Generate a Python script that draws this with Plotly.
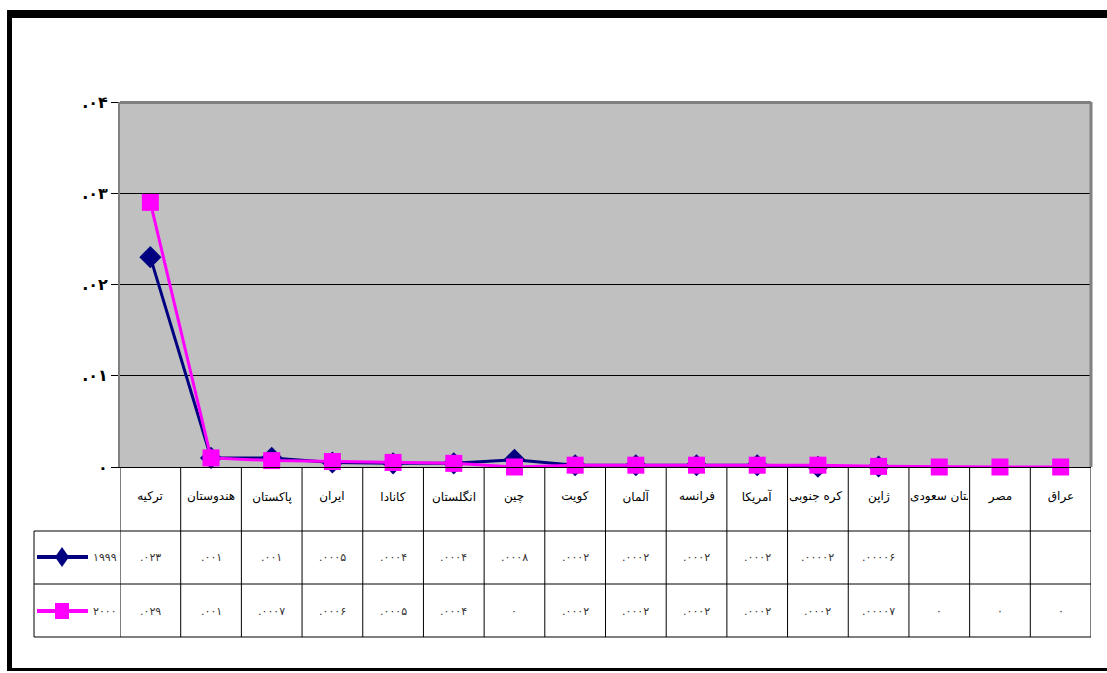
import plotly.graph_objects as go

# ---------------- data ----------------
categories = ["ترکیه", "هندوستان", "پاکستان", "ایران", "کانادا", "انگلستان", "چین", "کویت",
              "آلمان", "فرانسه", "آمریکا", "کره جنوبی", "ژاپن", "عربستان سعودی", "مصر", "عراق"]
values_1999 = [0.023, 0.001, 0.001, 0.0005, 0.0004, 0.0004, 0.0008, 0.0002,
               0.0002, 0.0002, 0.0002, 0.00002, 0.00006, None, None, None]
values_2000 = [0.029, 0.001, 0.0007, 0.0006, 0.0005, 0.0004, 0, 0.0002,
               0.0002, 0.0002, 0.0002, 0.0002, 0.00007, 0, 0, 0]
series_names = ["۱۹۹۹", "۲۰۰۰"]
y_tickvals = [0, 0.01, 0.02, 0.03, 0.04]
y_ticktext = ["۰", ".۰۱", ".۰۲", ".۰۳", ".۰۴"]

# ---------------- helpers ----------------
W, H = 1107, 673
L, R, T, B = 120, 1091, 102, 467
FA = "DejaVu Sans, Noto Sans, sans-serif"
PD = str.maketrans("0123456789", "۰۱۲۳۴۵۶۷۸۹")


def fmt(v):
    if v is None:
        return ""
    if v == 0:
        return "۰"
    s = f"{v:.5f}".rstrip("0")
    if s.startswith("0"):
        s = s[1:]
    return s.translate(PD)


def px(x):
    return (x - L) / (R - L)


def py(y):
    return (B - y) / (B - T)


fig = go.Figure()
fig.add_trace(go.Scatter(x=categories, y=values_1999, mode="lines+markers", name=series_names[0],
                         line=dict(color="#000080", width=3),
                         marker=dict(symbol="diamond", size=17, color="#000080"),
                         cliponaxis=False, connectgaps=False))
fig.add_trace(go.Scatter(x=categories, y=values_2000, mode="lines+markers", name=series_names[1],
                         line=dict(color="#FF00FF", width=3),
                         marker=dict(symbol="square", size=17, color="#FF00FF"),
                         cliponaxis=False))

shapes = []
annotations = []
line_col = "black"


def rect_px(x0, y0, x1, y1, color):
    shapes.append(dict(type="rect", xref="paper", yref="paper",
                       x0=px(x0), x1=px(x1), y0=py(y1), y1=py(y0),
                       fillcolor=color, line=dict(width=0), layer="above"))


# outer frame
rect_px(7, 10, 1107, 18, "black")
rect_px(7, 10, 12, 671, "black")
rect_px(7, 668, 1107, 671, "black")

# plot area border (gray)
shapes.append(dict(type="line", xref="paper", yref="paper", x0=0, x1=1, y0=py(102.5), y1=py(102.5),
                   line=dict(color="#808080", width=3), layer="above"))
shapes.append(dict(type="line", xref="paper", yref="paper", x0=px(1091), x1=px(1091), y0=py(102), y1=0,
                   line=dict(color="#808080", width=3), layer="above"))

# table horizontal lines
for yy in [531, 584, 637]:
    shapes.append(dict(type="line", xref="paper", yref="paper", x0=px(34), x1=px(1091),
                       y0=py(yy), y1=py(yy), line=dict(color=line_col, width=1), layer="above"))
# left column vertical
shapes.append(dict(type="line", xref="paper", yref="paper", x0=px(34), x1=px(34),
                   y0=py(531), y1=py(637), line=dict(color=line_col, width=1), layer="above"))
# category column boundaries
n = len(categories)
for i in range(n + 1):
    shapes.append(dict(type="line", xref="x", yref="paper", x0=i - 0.5, x1=i - 0.5,
                       y0=0, y1=py(637), line=dict(color=line_col, width=1), layer="above"))

# category labels and values
for i, c in enumerate(categories):
    annotations.append(dict(x=i, xref="x", y=py(497), yref="paper", text=c, showarrow=False,
                            yanchor="middle",
                            font=dict(family=FA, size=12, color="black"), width=58,
                            align="left" if len(c) > 8 else "center"))
    annotations.append(dict(x=i, xref="x", y=py(557), yref="paper", text=fmt(values_1999[i]),
                            yanchor="middle",
                            showarrow=False, font=dict(family=FA, size=11, color="#333333")))
    annotations.append(dict(x=i, xref="x", y=py(611), yref="paper", text=fmt(values_2000[i]),
                            yanchor="middle",
                            showarrow=False, font=dict(family=FA, size=11, color="#333333")))

# legend keys in the table
for (yy, col, sym, name) in [(557, "#000080", "diamond", series_names[0]),
                             (611, "#FF00FF", "square", series_names[1])]:
    shapes.append(dict(type="line", xref="paper", yref="paper", x0=px(37), x1=px(88),
                       y0=py(yy), y1=py(yy), line=dict(color=col, width=4), layer="above"))
    if sym == "diamond":
        path = (f"M {px(62)} {py(yy-10)} L {px(69)} {py(yy)} L {px(62)} {py(yy+10)} "
                f"L {px(55)} {py(yy)} Z")
    else:
        path = (f"M {px(55)} {py(yy-8)} L {px(69)} {py(yy-8)} L {px(69)} {py(yy+8)} "
                f"L {px(55)} {py(yy+8)} Z")
    shapes.append(dict(type="path", xref="paper", yref="paper", path=path,
                       fillcolor=col, line=dict(color=col, width=0), layer="above"))
    annotations.append(dict(x=px(119), xref="paper", y=py(yy), yref="paper", text=name,
                            showarrow=False, xanchor="right", yanchor="middle",
                            font=dict(family=FA, size=11, color="#333333")))

fig.update_layout(
    width=W, height=H,
    margin=dict(l=L, r=W - R, t=T, b=H - B, autoexpand=False),
    paper_bgcolor="white", plot_bgcolor="#C0C0C0",
    showlegend=False,
    shapes=shapes, annotations=annotations,
    xaxis=dict(type="category", categoryorder="array", categoryarray=categories,
               range=[-0.5, n - 0.5], showticklabels=False, ticks="", showgrid=False,
               showline=True, linecolor="black", linewidth=1, zeroline=False, fixedrange=True),
    yaxis=dict(range=[0, 0.04], tickvals=y_tickvals, ticktext=y_ticktext,
               ticks="outside", ticklen=7, tickcolor="black", showline=True, linecolor="#808080",
               linewidth=2, showgrid=True, gridcolor="black", gridwidth=1, zeroline=False,
               tickfont=dict(family=FA, size=16, color="black", weight="bold"), fixedrange=True),
)

fig.write_html("out.html", config={"displayModeBar": False},
               post_script="document.body.style.margin='0';document.body.style.overflow='hidden';")
